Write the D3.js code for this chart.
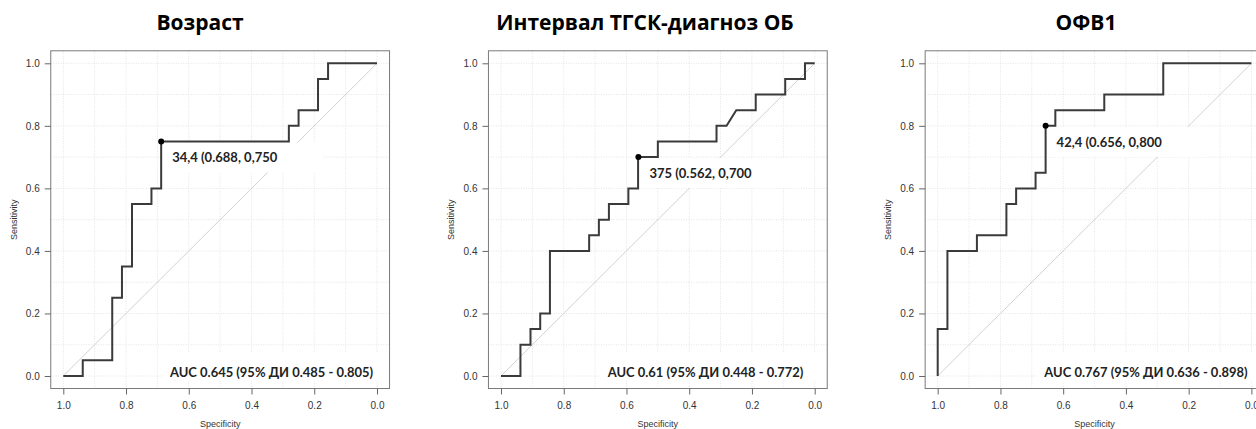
<!DOCTYPE html>
<html>
<head>
<meta charset="utf-8">
<script src="https://cdn.jsdelivr.net/npm/d3@7"></script>
<style>
  body { margin: 0; background: #fff; }
  .tick text { font-family: "Liberation Sans", Arial, sans-serif; font-size: 10px; fill: #333; }
  .tick line { stroke: #666; }
</style>
</head>
<body>
<div id="canvas"></div>
<script>
const width = 1256;
const height = 429;

// chart data
const titles = ["Возраст", "Интервал ТГСК-диагноз ОБ", "ОФВ1"];

const spec1 = [1, .938, .938, .844, .844, .813, .813, .781, .781, .719, .719, .688, .688, .281, .281, .25, .25, .188, .188, .156, .156, 0];
const sens1 = [0, 0, .05, .05, .25, .25, .35, .35, .55, .55, .6, .6, .75, .75, .8, .8, .85, .85, .95, .95, 1, 1];

const spec2 = [1, .938, .938, .906, .906, .875, .875, .844, .844, .719, .719, .688, .688, .656, .656, .594, .594, .563, .563, .5, .5, .313, .313, .281, .25, .188, .188, .094, .094, .031, .031, 0];
const sens2 = [0, 0, .1, .1, .15, .15, .2, .2, .4, .4, .45, .45, .5, .5, .55, .55, .6, .6, .7, .7, .75, .75, .8, .8, .85, .85, .9, .9, .95, .95, 1, 1];

const spec3 = [1, 1, .969, .969, .875, .875, .781, .781, .75, .75, .688, .688, .656, .656, .625, .625, .469, .469, .281, .281, 0];
const sens3 = [0, .15, .15, .4, .4, .45, .45, .55, .55, .6, .6, .65, .65, .8, .8, .85, .85, .9, .9, 1, 1];

const cutSpec = [0.688, 0.562, 0.656];
const cutSens = [0.750, 0.700, 0.800];
const cutLabels = ["34,4 (0.688, 0,750", "375 (0.562, 0,700", "42,4 (0.656, 0,800"];
const aucLabels = ["AUC 0.645 (95% ДИ 0.485 - 0.805)", "AUC 0.61 (95% ДИ 0.448 - 0.772)", "AUC 0.767 (95% ДИ 0.636 - 0.898)"];

const tickValues = [0, 0.2, 0.4, 0.6, 0.8, 1.0];
const gridValues = d3.range(0, 1.001, 0.1);

// layout
const plotLeft = [63.3, 501, 937.7];   // pixel of specificity 1.0
const titleX = [200, 645, 1086];
const unitW = 313.7;
const yTop = 63.3, yBottom = 376;

const allSpec = [spec1, spec2, spec3];
const allSens = [sens1, sens2, sens3];

// squeeze text horizontally (the original font is narrower)
function squeeze(sel, k) {
    const w = sel.node().getComputedTextLength();
    sel.attr("textLength", w * k).attr("lengthAdjust", "spacingAndGlyphs");
}

const svg = d3.select("#canvas")
    .append("svg")
    .attr("width", width)
    .attr("height", height);

const y = d3.scaleLinear().domain([0, 1]).range([yBottom, yTop]);

titles.forEach(function(t, i) {

    const x = d3.scaleLinear().domain([1, 0]).range([plotLeft[i], plotLeft[i] + unitW]);
    const g = svg.append("g");

    const bx0 = x(1.04), bx1 = x(-0.04), by0 = y(1.04), by1 = y(-0.04);

    // grid
    g.selectAll(".gx").data(gridValues).enter().append("line")
        .attr("x1", d => x(d)).attr("x2", d => x(d))
        .attr("y1", by0).attr("y2", by1)
        .attr("stroke", "#e3e3e3").attr("stroke-dasharray", "1,1.5");
    g.selectAll(".gy").data(gridValues).enter().append("line")
        .attr("y1", d => y(d)).attr("y2", d => y(d))
        .attr("x1", bx0).attr("x2", bx1)
        .attr("stroke", "#e3e3e3").attr("stroke-dasharray", "1,1.5");

    // diagonal
    g.append("line")
        .attr("x1", x(1)).attr("y1", y(0))
        .attr("x2", x(0)).attr("y2", y(1))
        .attr("stroke", "#d2d2d2").attr("stroke-width", 1);

    // white boxes behind texts
    const px = x(cutSpec[i]), py = y(cutSens[i]);
    g.append("rect")
        .attr("x", px + 2).attr("y", py + 1)
        .attr("width", 160).attr("height", 30)
        .attr("fill", "#fff");
    g.append("rect")
        .attr("x", x(0.685)).attr("y", y(0.075))
        .attr("width", bx1 - 2 - x(0.685)).attr("height", y(-0.015) - y(0.075))
        .attr("fill", "#fff");

    // box
    g.append("rect")
        .attr("x", bx0).attr("y", by0)
        .attr("width", bx1 - bx0).attr("height", by1 - by0)
        .attr("fill", "none").attr("stroke", "#7a7a7a").attr("stroke-width", 1);

    // axes
    const xAxis = g.append("g")
        .attr("transform", "translate(0," + by1 + ")")
        .call(d3.axisBottom(x).tickValues(tickValues).tickFormat(d3.format(".1f")).tickSize(6).tickPadding(7));
    xAxis.select(".domain").remove();

    const yAxis = g.append("g")
        .attr("transform", "translate(" + bx0 + ",0)")
        .call(d3.axisLeft(y).tickValues(tickValues).tickFormat(d3.format(".1f")).tickSize(6).tickPadding(5));
    yAxis.select(".domain").remove();

    g.append("text")
        .attr("x", (bx0 + bx1) / 2).attr("y", 427)
        .attr("text-anchor", "middle")
        .attr("font-family", "Liberation Sans, Arial, sans-serif")
        .attr("font-size", 9).attr("fill", "#333")
        .text("Specificity");

    g.append("text")
        .attr("transform", "translate(" + (bx0 - 34) + "," + y(0.5) + ") rotate(-90)")
        .attr("text-anchor", "middle")
        .attr("font-family", "Liberation Sans, Arial, sans-serif")
        .attr("font-size", 9).attr("fill", "#333")
        .text("Sensitivity");

    // ROC curve
    const pts = allSpec[i].map((s, k) => [s, allSens[i][k]]);
    g.append("path")
        .datum(pts)
        .attr("d", d3.line().x(d => x(d[0])).y(d => y(d[1])))
        .attr("fill", "none")
        .attr("stroke", "#3a3a3a")
        .attr("stroke-width", 2);

    g.append("circle")
        .attr("cx", px).attr("cy", py).attr("r", 3)
        .attr("fill", "#000");

    const cut = g.append("text")
        .attr("x", px + 11).attr("y", py + 21)
        .attr("font-family", "Lato, sans-serif").attr("font-weight", "bold")
        .attr("font-size", 14).attr("fill", "#222")
        .text(cutLabels[i]);
    squeeze(cut, 0.93);

    const auc = g.append("text")
        .attr("x", x(0.66)).attr("y", y(0) + 1)
        .attr("font-family", "Lato, sans-serif").attr("font-weight", "bold")
        .attr("font-size", 14).attr("fill", "#222")
        .text(aucLabels[i]);
    squeeze(auc, 0.925);

    svg.append("text")
        .attr("x", titleX[i]).attr("y", 30)
        .attr("text-anchor", "middle")
        .attr("font-family", "Open Sans, sans-serif").attr("font-weight", "bold")
        .attr("font-size", 21).attr("fill", "#000")
        .text(t);
});
</script>
</body>
</html>
